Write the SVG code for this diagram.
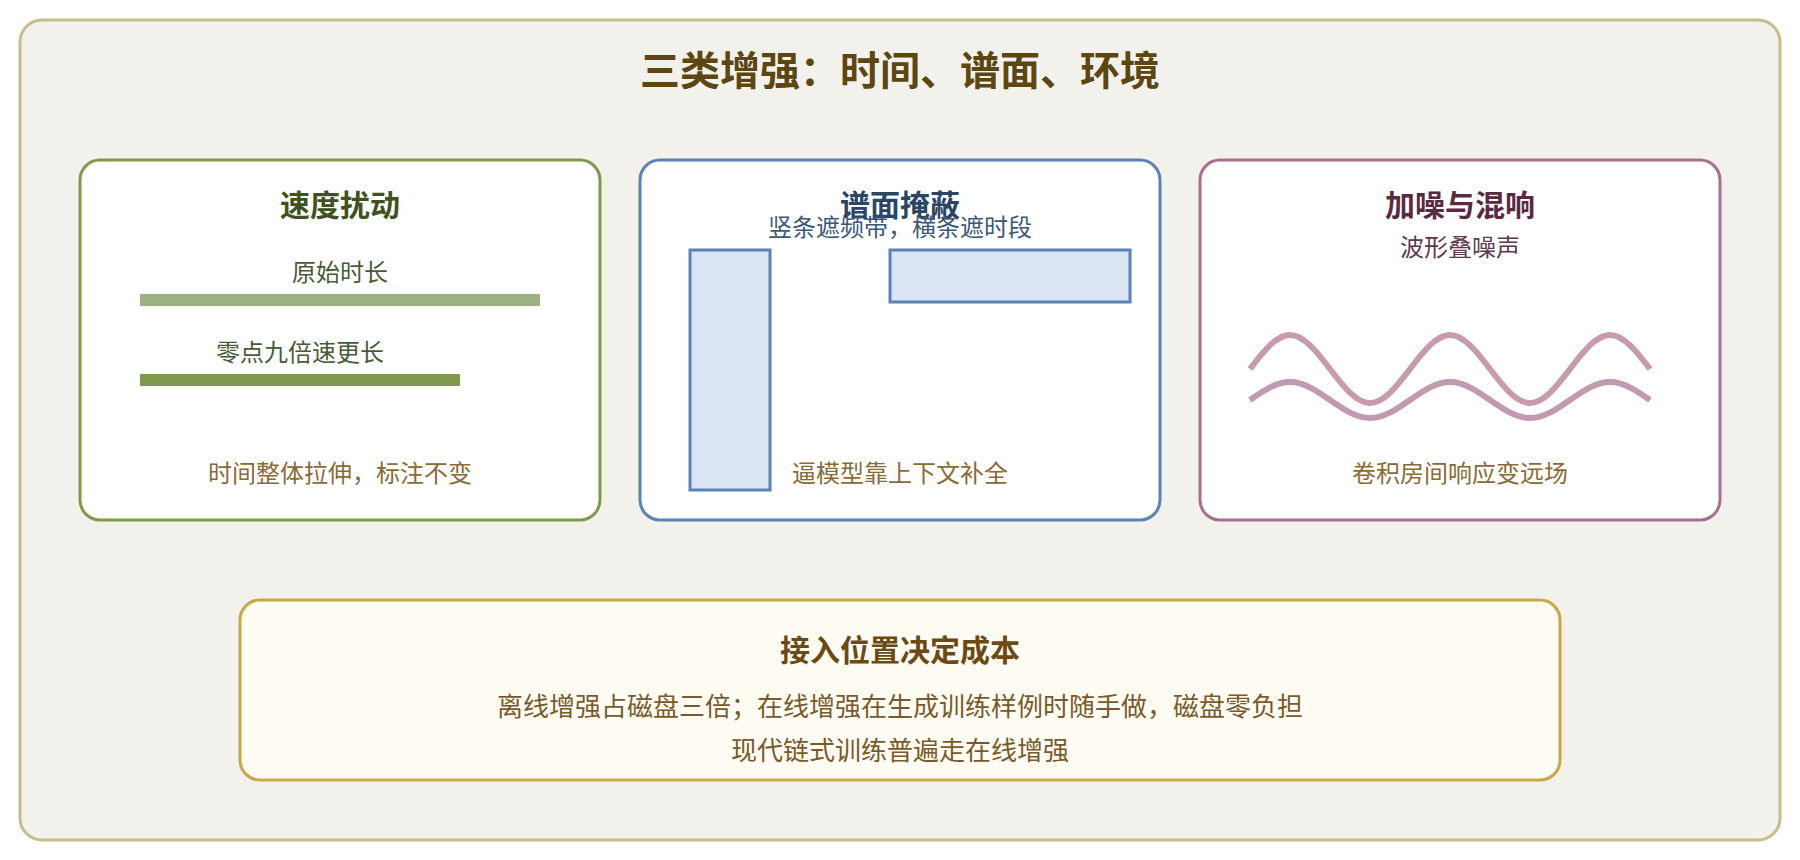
<svg xmlns="http://www.w3.org/2000/svg" width="1800" height="860" viewBox="0 0 1800 860">
<style>
text{font-family:"Noto Sans CJK SC","Noto Sans",sans-serif;text-anchor:middle}
.card{fill:#ffffff;stroke-width:3}
.ttl{font-size:30px;font-weight:700}
.sub{font-size:24px}
.note{font-size:24px;fill:#8a6a35}
.wave{fill:none;stroke-width:6;stroke-linecap:butt}
</style>
<rect width="1800" height="860" fill="#ffffff"/>
<g id="frame">
<rect x="20" y="20" width="1760" height="820" rx="22" fill="#f3f1ec" stroke="#c8bd8a" stroke-width="3"/>
<text x="900" y="85" font-size="40" font-weight="700" fill="#5c4712">三类增强：时间、谱面、环境</text>
</g>
<g id="speed">
<rect class="card" x="80" y="160" width="520" height="360" rx="20" stroke="#7d9a4d"/>
<text class="ttl" x="340" y="216" fill="#3f5220">速度扰动</text>
<text class="sub" x="340" y="281" fill="#4a5a38">原始时长</text>
<rect x="140" y="294" width="400" height="12" fill="#9db384"/>
<text class="sub" x="300" y="361" fill="#4a5a38">零点九倍速更长</text>
<rect x="140" y="374" width="320" height="12" fill="#7d9a4d"/>
<text class="note" x="340" y="482">时间整体拉伸，标注不变</text>
</g>
<g id="specaug">
<rect class="card" x="640" y="160" width="520" height="360" rx="20" stroke="#5b82b5"/>
<text class="ttl" x="900" y="216" fill="#2a4566">谱面掩蔽</text>
<text class="sub" x="900" y="236" fill="#3b5878">竖条遮频带，横条遮时段</text>
<rect x="690" y="250" width="80" height="240" fill="#d9e5f2" stroke="#5b82b5" stroke-width="3"/>
<rect x="890" y="250" width="240" height="52" fill="#d9e5f2" stroke="#5b82b5" stroke-width="3"/>
<text class="note" x="900" y="482">逼模型靠上下文补全</text>
</g>
<g id="noise">
<rect class="card" x="1200" y="160" width="520" height="360" rx="20" stroke="#a8708e"/>
<text class="ttl" x="1460" y="216" fill="#5a2a42">加噪与混响</text>
<text class="sub" x="1460" y="256" fill="#5e3a50">波形叠噪声</text>
<path class="wave" stroke="#c89aae" d="M1250 369 C1263 352 1276 335 1290 335 C1304 335 1317 352 1330 369 C1343 386 1356 403 1370 403 C1384 403 1397 386 1410 369 C1423 352 1436 335 1450 335 C1464 335 1477 352 1490 369 C1503 386 1516 403 1530 403 C1544 403 1557 386 1570 369 C1583 352 1596 335 1610 335 C1624 335 1637 352 1650 369"/>
<path class="wave" stroke="#c29ab0" d="M1250 400 C1263 391 1276 382 1290 382 C1304 382 1317 391 1330 400 C1343 409 1356 418 1370 418 C1384 418 1397 409 1410 400 C1423 391 1436 382 1450 382 C1464 382 1477 391 1490 400 C1503 409 1516 418 1530 418 C1544 418 1557 409 1570 400 C1583 391 1596 382 1610 382 C1624 382 1637 391 1650 400"/>
<text class="note" x="1460" y="482">卷积房间响应变远场</text>
</g>
<g id="cost">
<rect x="240" y="600" width="1320" height="180" rx="20" fill="#fefcf3" stroke="#c9a84a" stroke-width="3"/>
<text x="900" y="661" font-size="30" font-weight="700" fill="#6b4a14">接入位置决定成本</text>
<text x="900" y="716" font-size="26" fill="#7a5a2a">离线增强占磁盘三倍；在线增强在生成训练样例时随手做，磁盘零负担</text>
<text x="900" y="760" font-size="26" fill="#7a5a2a">现代链式训练普遍走在线增强</text>
</g>
<g id="connectors"></g>
</svg>
